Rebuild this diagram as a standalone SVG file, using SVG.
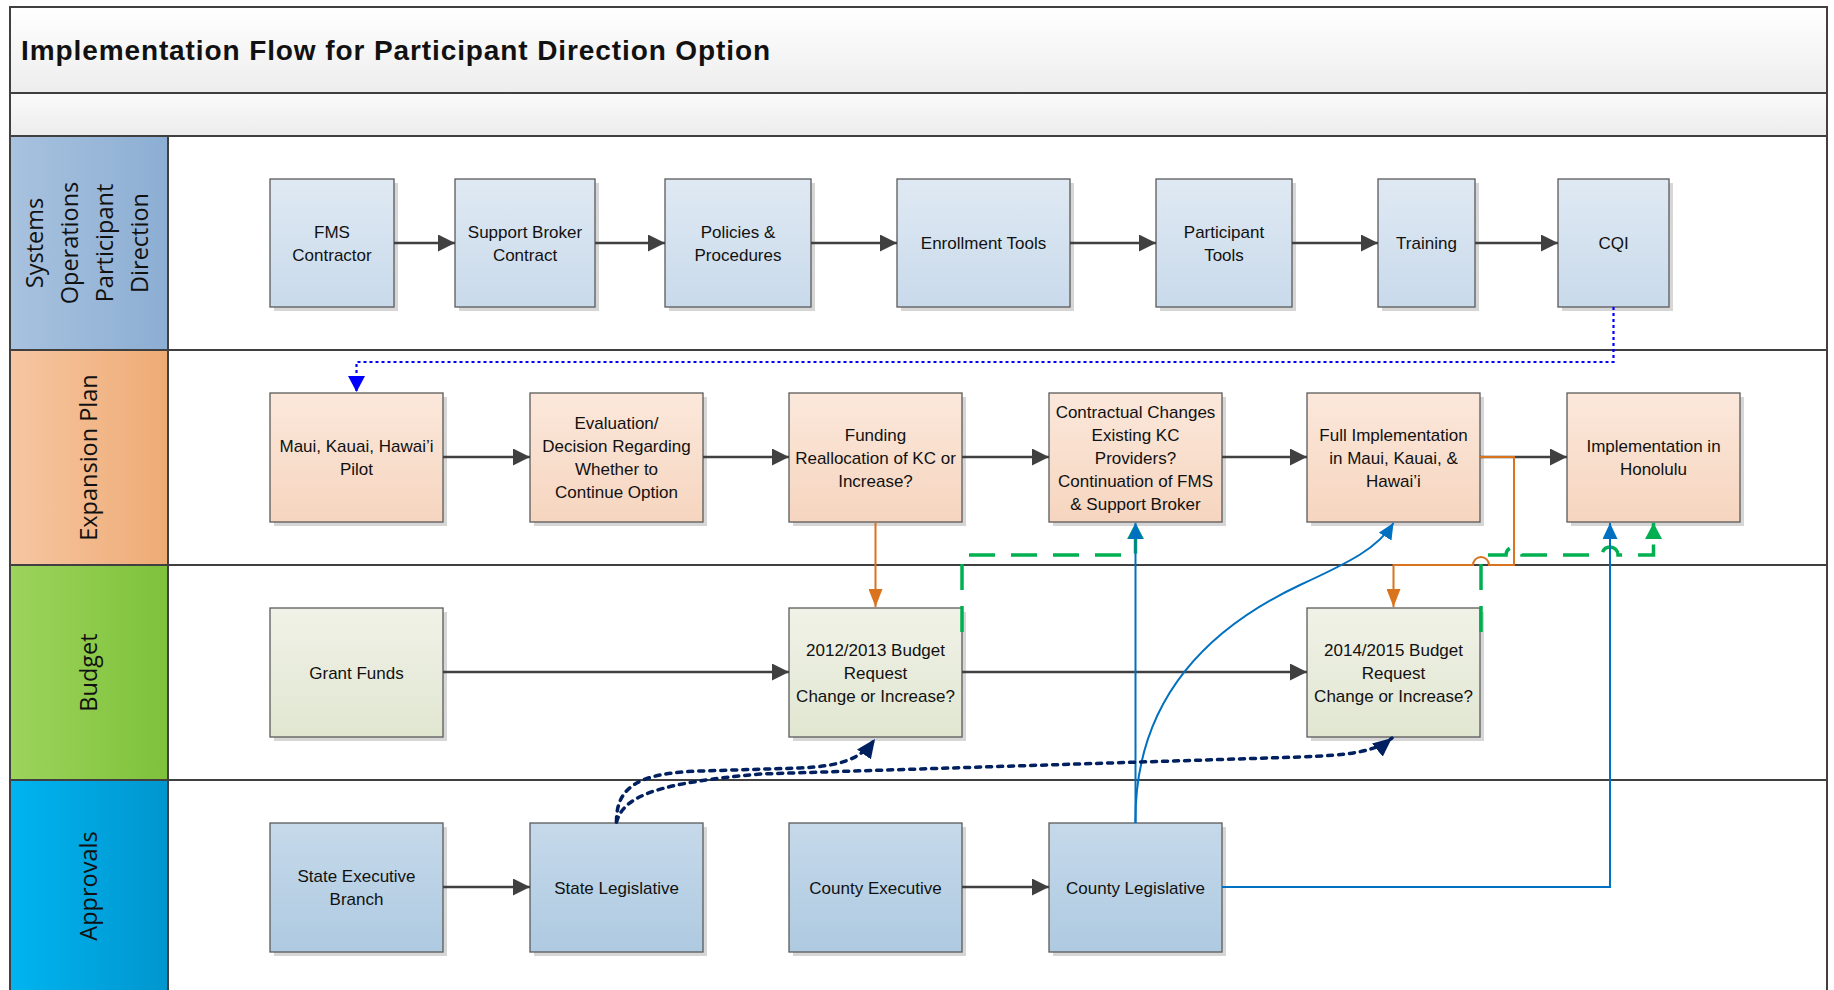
<svg xmlns="http://www.w3.org/2000/svg" width="1834" height="990" viewBox="0 0 1834 990">
<defs>
<linearGradient id="gTitle" x1="0" y1="0" x2="0" y2="1"><stop offset="0" stop-color="#FFFFFF"/><stop offset="1" stop-color="#EDEDED"/></linearGradient>
<linearGradient id="gBand" x1="0" y1="0" x2="0" y2="1"><stop offset="0" stop-color="#FBFBFB"/><stop offset="1" stop-color="#ECECEC"/></linearGradient>
<linearGradient id="gL1" x1="0" y1="0" x2="1" y2="0"><stop offset="0" stop-color="#A8C2DF"/><stop offset="1" stop-color="#8CAED3"/></linearGradient>
<linearGradient id="gL2" x1="0" y1="0" x2="1" y2="0"><stop offset="0" stop-color="#F6C6A2"/><stop offset="1" stop-color="#EEAB74"/></linearGradient>
<linearGradient id="gL3" x1="0" y1="0" x2="1" y2="0"><stop offset="0" stop-color="#9DD45C"/><stop offset="1" stop-color="#7EC13A"/></linearGradient>
<linearGradient id="gL4" x1="0" y1="0" x2="1" y2="0"><stop offset="0" stop-color="#00B4F0"/><stop offset="1" stop-color="#0096CE"/></linearGradient>
<linearGradient id="nB1" x1="0" y1="0" x2="0" y2="1"><stop offset="0" stop-color="#DFE9F3"/><stop offset="1" stop-color="#C9DAEB"/></linearGradient>
<linearGradient id="nB4" x1="0" y1="0" x2="0" y2="1"><stop offset="0" stop-color="#C6D9EA"/><stop offset="1" stop-color="#AECAE1"/></linearGradient>
<linearGradient id="nP" x1="0" y1="0" x2="0" y2="1"><stop offset="0" stop-color="#FBE8DB"/><stop offset="1" stop-color="#F6D5BF"/></linearGradient>
<linearGradient id="nG" x1="0" y1="0" x2="0" y2="1"><stop offset="0" stop-color="#F0F2E7"/><stop offset="1" stop-color="#E1E6D1"/></linearGradient>
<marker id="aGray" markerUnits="userSpaceOnUse" markerWidth="17" markerHeight="17" refX="17" refY="8.5" orient="auto"><path d="M0,0 L17,8.5 L0,17 z" fill="#404040"/></marker>
<marker id="aOrange" markerUnits="userSpaceOnUse" markerWidth="18" markerHeight="14" refX="18" refY="7" orient="auto"><path d="M0,0 L18,7 L0,14 z" fill="#D9731E"/></marker>
<marker id="aBlue" markerUnits="userSpaceOnUse" markerWidth="16" markerHeight="15" refX="16" refY="7.5" orient="auto"><path d="M0,0 L16,7.5 L0,15 z" fill="#0070C0"/></marker>
<marker id="aGreen" markerUnits="userSpaceOnUse" markerWidth="16" markerHeight="17" refX="16" refY="8.5" orient="auto"><path d="M0,0 L16,8.5 L0,17 z" fill="#00B050"/></marker>
<marker id="aNavy" markerUnits="userSpaceOnUse" markerWidth="19" markerHeight="17" refX="19" refY="8.5" orient="auto"><path d="M0,0 L19,8.5 L0,17 z" fill="#002060"/></marker>
<marker id="aBright" markerUnits="userSpaceOnUse" markerWidth="16" markerHeight="17" refX="16" refY="8.5" orient="auto"><path d="M0,0 L16,8.5 L0,17 z" fill="#0000FF"/></marker>
</defs>
<style>
.frame{fill:none;stroke:#404040;stroke-width:2}
.sep{stroke:#404040;stroke-width:2}
.lt{font-family:"Open Sans","DejaVu Sans",sans-serif;font-size:23.5px;fill:#111}
.t{font-family:"Liberation Sans",Arial,sans-serif;font-size:17px;fill:#111;text-anchor:middle}
.box{stroke:#5A5A5A;stroke-width:1.3}
.sh{fill:#D6D6D6}
.b1{fill:url(#nB1)}
.b4{fill:url(#nB4)}
.bp{fill:url(#nP)}
.bg{fill:url(#nG)}
.cg{fill:none;stroke:#404040;stroke-width:2.4;marker-end:url(#aGray)}
.co{fill:none;stroke:#D9731E;stroke-width:2}
.cb{fill:none;stroke:#0070C0;stroke-width:2}
.cgr{fill:none;stroke:#00B050;stroke-width:3.5;stroke-dasharray:26 16}
.cn{fill:none;stroke:#002060;stroke-width:3.5;stroke-dasharray:5 6;stroke-linecap:round}
.cd{fill:none;stroke:#0000FF;stroke-width:2.2;stroke-dasharray:3 3}
</style>
<rect x="0" y="0" width="1834" height="990" fill="#FFFFFF"/>
<g id="lanes">
<rect x="10" y="7" width="1817" height="86" fill="url(#gTitle)"/>
<rect x="10" y="93" width="1817" height="43" fill="url(#gBand)"/>
<rect x="10" y="136" width="158" height="214" fill="url(#gL1)"/>
<rect x="10" y="350" width="158" height="215" fill="url(#gL2)"/>
<rect x="10" y="565" width="158" height="215" fill="url(#gL3)"/>
<rect x="10" y="780" width="158" height="215" fill="url(#gL4)"/>
<rect x="10" y="7" width="1817" height="990" class="frame"/>
<line x1="10" y1="93" x2="1827" y2="93" class="sep"/>
<line x1="10" y1="136" x2="1827" y2="136" class="sep"/>
<line x1="10" y1="350" x2="1827" y2="350" class="sep"/>
<line x1="10" y1="565" x2="1827" y2="565" class="sep"/>
<line x1="10" y1="780" x2="1827" y2="780" class="sep"/>
<line x1="168" y1="136" x2="168" y2="995" class="sep"/>
<text x="21" y="60" font-family="Liberation Sans, Arial, sans-serif" font-weight="bold" font-size="28" fill="#111" textLength="749" lengthAdjust="spacing">Implementation Flow for Participant Direction Option</text>
<text class="lt" transform="translate(0,243) rotate(-90)" text-anchor="middle"><tspan x="0" y="43">Systems</tspan><tspan x="0" y="78">Operations</tspan><tspan x="0" y="113">Participant</tspan><tspan x="0" y="148">Direction</tspan></text>
<text class="lt" transform="translate(97,457.5) rotate(-90)" text-anchor="middle" x="0" y="0">Expansion Plan</text>
<text class="lt" transform="translate(97,672.5) rotate(-90)" text-anchor="middle" x="0" y="0">Budget</text>
<text class="lt" transform="translate(97,886) rotate(-90)" text-anchor="middle" x="0" y="0">Approvals</text>
</g>
<g id="n_fms"><rect class="sh" x="274" y="183" width="124" height="128"/><rect class="box b1" x="270" y="179" width="124" height="128"/><text class="t"><tspan x="332" y="237.5">FMS</tspan><tspan x="332" y="260.5">Contractor</tspan></text></g>
<g id="n_sbc"><rect class="sh" x="459" y="183" width="140" height="128"/><rect class="box b1" x="455" y="179" width="140" height="128"/><text class="t"><tspan x="525" y="237.5">Support Broker</tspan><tspan x="525" y="260.5">Contract</tspan></text></g>
<g id="n_pp"><rect class="sh" x="669" y="183" width="146" height="128"/><rect class="box b1" x="665" y="179" width="146" height="128"/><text class="t"><tspan x="738" y="237.5">Policies &amp;</tspan><tspan x="738" y="260.5">Procedures</tspan></text></g>
<g id="n_et"><rect class="sh" x="901" y="183" width="173" height="128"/><rect class="box b1" x="897" y="179" width="173" height="128"/><text class="t" x="983.5" y="249">Enrollment Tools</text></g>
<g id="n_pt"><rect class="sh" x="1160" y="183" width="136" height="128"/><rect class="box b1" x="1156" y="179" width="136" height="128"/><text class="t"><tspan x="1224" y="237.5">Participant</tspan><tspan x="1224" y="260.5">Tools</tspan></text></g>
<g id="n_tr"><rect class="sh" x="1382" y="183" width="97" height="128"/><rect class="box b1" x="1378" y="179" width="97" height="128"/><text class="t" x="1426.5" y="249">Training</text></g>
<g id="n_cqi"><rect class="sh" x="1562" y="183" width="111" height="128"/><rect class="box b1" x="1558" y="179" width="111" height="128"/><text class="t" x="1613.5" y="249">CQI</text></g>
<g id="n_pilot"><rect class="sh" x="274" y="397" width="173" height="129"/><rect class="box bp" x="270" y="393" width="173" height="129"/><text class="t"><tspan x="356.5" y="452">Maui, Kauai, Hawai’i</tspan><tspan x="356.5" y="475">Pilot</tspan></text></g>
<g id="n_eval"><rect class="sh" x="534" y="397" width="173" height="129"/><rect class="box bp" x="530" y="393" width="173" height="129"/><text class="t"><tspan x="616.5" y="429">Evaluation/</tspan><tspan x="616.5" y="452">Decision Regarding</tspan><tspan x="616.5" y="475">Whether to</tspan><tspan x="616.5" y="498">Continue Option</tspan></text></g>
<g id="n_fund"><rect class="sh" x="793" y="397" width="173" height="129"/><rect class="box bp" x="789" y="393" width="173" height="129"/><text class="t"><tspan x="875.5" y="440.5">Funding</tspan><tspan x="875.5" y="463.5">Reallocation of KC or</tspan><tspan x="875.5" y="486.5">Increase?</tspan></text></g>
<g id="n_contract"><rect class="sh" x="1053" y="397" width="173" height="129"/><rect class="box bp" x="1049" y="393" width="173" height="129"/><text class="t"><tspan x="1135.5" y="417.5">Contractual Changes</tspan><tspan x="1135.5" y="440.5">Existing KC</tspan><tspan x="1135.5" y="463.5">Providers?</tspan><tspan x="1135.5" y="486.5">Continuation of FMS</tspan><tspan x="1135.5" y="509.5">&amp; Support Broker</tspan></text></g>
<g id="n_full"><rect class="sh" x="1311" y="397" width="173" height="129"/><rect class="box bp" x="1307" y="393" width="173" height="129"/><text class="t"><tspan x="1393.5" y="440.5">Full Implementation</tspan><tspan x="1393.5" y="463.5">in Maui, Kauai, &amp;</tspan><tspan x="1393.5" y="486.5">Hawai’i</tspan></text></g>
<g id="n_hon"><rect class="sh" x="1571" y="397" width="173" height="129"/><rect class="box bp" x="1567" y="393" width="173" height="129"/><text class="t"><tspan x="1653.5" y="452">Implementation in</tspan><tspan x="1653.5" y="475">Honolulu</tspan></text></g>
<g id="n_grant"><rect class="sh" x="274" y="612" width="173" height="129"/><rect class="box bg" x="270" y="608" width="173" height="129"/><text class="t" x="356.5" y="678.5">Grant Funds</text></g>
<g id="n_b1213"><rect class="sh" x="793" y="612" width="173" height="129"/><rect class="box bg" x="789" y="608" width="173" height="129"/><text class="t"><tspan x="875.5" y="655.5">2012/2013 Budget</tspan><tspan x="875.5" y="678.5">Request</tspan><tspan x="875.5" y="701.5">Change or Increase?</tspan></text></g>
<g id="n_b1415"><rect class="sh" x="1311" y="612" width="173" height="129"/><rect class="box bg" x="1307" y="608" width="173" height="129"/><text class="t"><tspan x="1393.5" y="655.5">2014/2015 Budget</tspan><tspan x="1393.5" y="678.5">Request</tspan><tspan x="1393.5" y="701.5">Change or Increase?</tspan></text></g>
<g id="n_seb"><rect class="sh" x="274" y="827" width="173" height="129"/><rect class="box b4" x="270" y="823" width="173" height="129"/><text class="t"><tspan x="356.5" y="882">State Executive</tspan><tspan x="356.5" y="905">Branch</tspan></text></g>
<g id="n_sl"><rect class="sh" x="534" y="827" width="173" height="129"/><rect class="box b4" x="530" y="823" width="173" height="129"/><text class="t" x="616.5" y="893.5">State Legislative</text></g>
<g id="n_ce"><rect class="sh" x="793" y="827" width="173" height="129"/><rect class="box b4" x="789" y="823" width="173" height="129"/><text class="t" x="875.5" y="893.5">County Executive</text></g>
<g id="n_cl"><rect class="sh" x="1053" y="827" width="173" height="129"/><rect class="box b4" x="1049" y="823" width="173" height="129"/><text class="t" x="1135.5" y="893.5">County Legislative</text></g>
<g id="connectors">
<path class="cg" d="M394,243 H455"/>
<path class="cg" d="M595,243 H665"/>
<path class="cg" d="M811,243 H897"/>
<path class="cg" d="M1070,243 H1156"/>
<path class="cg" d="M1292,243 H1378"/>
<path class="cg" d="M1475,243 H1558"/>
<path class="cg" d="M443,457 H530"/>
<path class="cg" d="M703,457 H789"/>
<path class="cg" d="M962,457 H1049"/>
<path class="cg" d="M1222,457 H1307"/>
<path class="cg" d="M1480,457 H1567"/>
<path class="cg" d="M443,672 H789"/>
<path class="cg" d="M962,672 H1307"/>
<path class="cg" d="M443,887 H530"/>
<path class="cg" d="M962,887 H1049"/>
<path class="cgr" d="M962,632 V555 H1135.5 V523" marker-end="url(#aGreen)"/>
<path class="cgr" d="M1481,632 V555 H1506 a8,8 0 0 1 16,0 H1602 a8,8 0 0 1 16,0 H1653.5 V523" marker-end="url(#aGreen)"/>
<path class="co" d="M875.5,522 V607" marker-end="url(#aOrange)"/>
<path class="co" d="M1480,457 H1514 V565 H1489 a8,8 0 0 0 -16,0 H1393.5 V607" marker-end="url(#aOrange)"/>
<path class="cb" d="M1135.5,823 V523" marker-end="url(#aBlue)"/>
<path class="cb" d="M1135.5,823 C1134,695 1215,625 1300,585 C1350,562 1378,548 1393.5,523" marker-end="url(#aBlue)"/>
<path class="cb" d="M1222,887 H1610 V523" marker-end="url(#aBlue)"/>
<path class="cn" d="M616.5,822 C616,786 640,773 700,771 L800,768 C840,766 860,760 875,739" marker-end="url(#aNavy)"/>
<path class="cn" d="M616.5,822 C624,795 660,783 760,774 L1300,757 C1350,755 1375,752 1392,738" marker-end="url(#aNavy)"/>
<path class="cd" d="M1613.5,307 V362 H356.5 V392" marker-end="url(#aBright)"/>
</g>
</svg>
